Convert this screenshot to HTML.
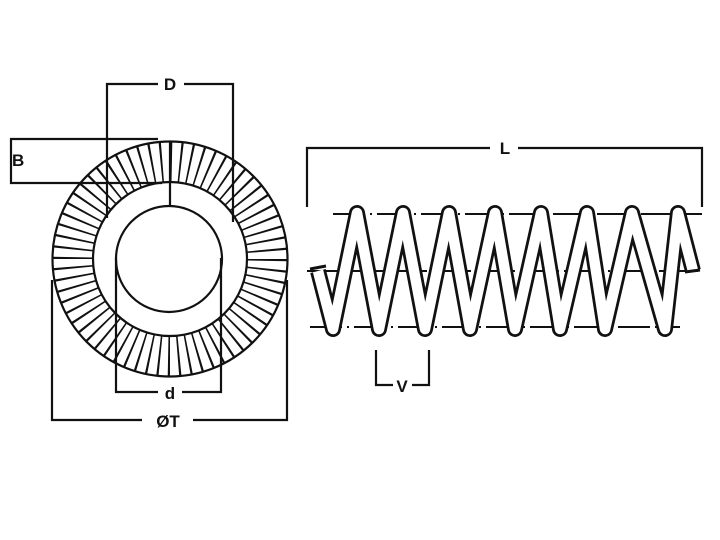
<!DOCTYPE html>
<html><head><style>
html,body{margin:0;padding:0;background:#fff;}
svg{display:block;}
text{font-family:"Liberation Sans",sans-serif;font-weight:bold;font-size:17px;fill:#111;}
</style></head><body>
<svg width="720" height="540" viewBox="0 0 720 540" xmlns="http://www.w3.org/2000/svg">
<g fill="none" stroke="#111" stroke-width="2.2">
  <circle cx="170" cy="259" r="97" stroke-width="40" stroke-dasharray="1.9 7.62"/>
  <circle cx="170" cy="259" r="117.5"/>
  <circle cx="170" cy="259" r="77"/>
  <circle cx="169" cy="259" r="53"/>
  <line x1="170" y1="141" x2="170" y2="206"/>
  <polyline points="107,218 107,84 158,84"/>
  <polyline points="184,84 233,84 233,222"/>
  <polyline points="158,139 11,139 11,183 162,183"/>
  <polyline points="116,258 116,392 158,392"/>
  <polyline points="182,392 221,392 221,258"/>
  <polyline points="52,280 52,420 142,420"/>
  <polyline points="193,420 287,420 287,280"/>
  <polyline points="307,207 307,148 490,148"/>
  <polyline points="518,148 702,148 702,207"/>
  <polyline points="376,350 376,385 393,385"/>
  <polyline points="412,385 429,385 429,350"/>
  <line x1="333" y1="214" x2="702" y2="214" stroke-width="2" stroke-dasharray="32 5 2 5"/>
  <line x1="307" y1="271" x2="700" y2="271" stroke-width="2" stroke-dasharray="32 5 2 5"/>
  <line x1="310" y1="327" x2="680" y2="327" stroke-width="2" stroke-dasharray="32 5 2 5"/>
</g>
<g fill="none" stroke-linejoin="round" stroke-linecap="butt">
  <polyline stroke="#111" stroke-width="16" points="318,271 333,329 357,213 379,329 403,213 425,329 449,213 470,329 495,213 515,329 541,213 560,329 587,213 605,329 632,213 665,329 678,213 693,271"/>
  <polyline stroke="#fff" stroke-width="10.5" points="318,271 333,329 357,213 379,329 403,213 425,329 449,213 470,329 495,213 515,329 541,213 560,329 587,213 605,329 632,213 665,329 678,213 693,271"/>
</g>
<g stroke="#111" stroke-width="3" fill="none">
  <polyline points="310,269 326,266"/>
  <polyline points="685,272 700,270"/>
</g>
<text x="170" y="90" text-anchor="middle">D</text>
<text x="12" y="166">B</text>
<text x="170" y="399" text-anchor="middle" font-size="20">d</text>
<text x="168" y="427" text-anchor="middle">ØT</text>
<text x="505" y="154" text-anchor="middle">L</text>
<text x="402" y="392" text-anchor="middle">V</text>
</svg>
</body></html>
